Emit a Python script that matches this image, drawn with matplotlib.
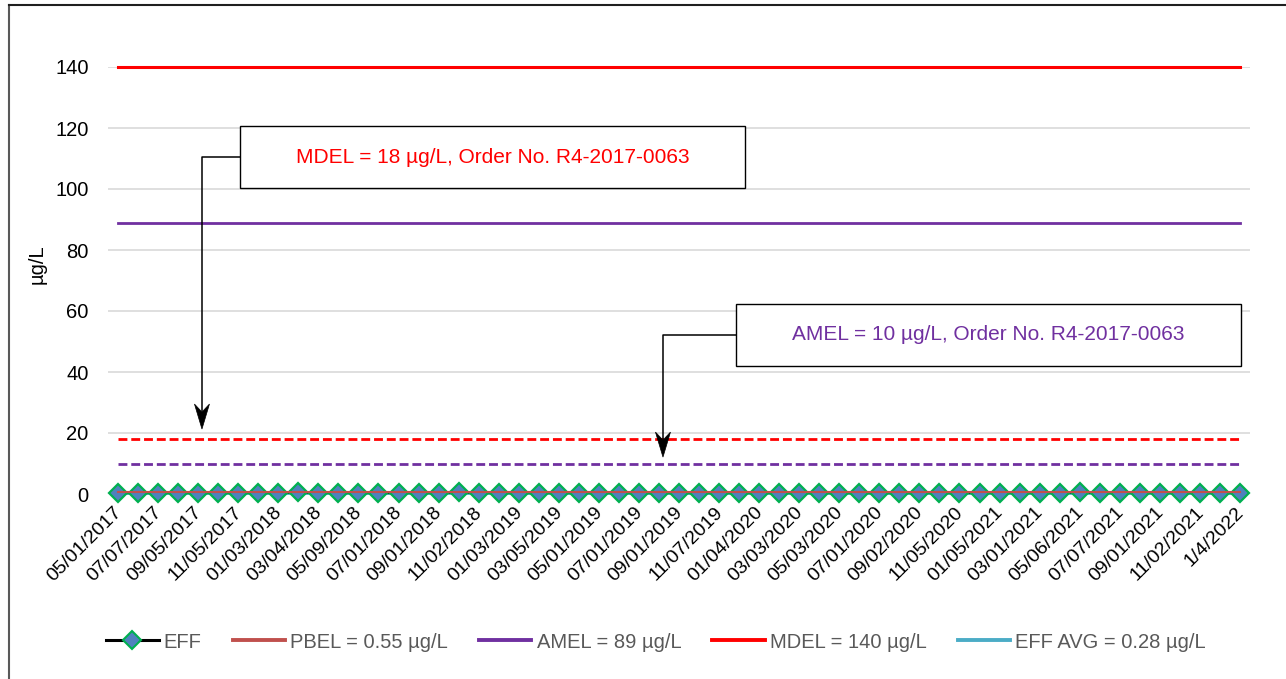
import matplotlib.pyplot as plt
import matplotlib.transforms as mtransforms
import numpy as np
from matplotlib.lines import Line2D
from matplotlib.patches import Rectangle, Polygon

plt.rcParams['font.family'] = ['Liberation Sans', 'DejaVu Sans']

# ---------------------------------------------------------------- data
tick_labels = ['05/01/2017', '07/07/2017', '09/05/2017', '11/05/2017',
               '01/03/2018', '03/04/2018', '05/09/2018', '07/01/2018',
               '09/01/2018', '11/02/2018', '01/03/2019', '03/05/2019',
               '05/01/2019', '07/01/2019', '09/01/2019', '11/07/2019',
               '01/04/2020', '03/03/2020', '05/03/2020', '07/01/2020',
               '09/02/2020', '11/05/2020', '01/05/2021', '03/01/2021',
               '05/06/2021', '07/07/2021', '09/01/2021', '11/02/2021',
               '1/4/2022']
eff = [0.3, 0.3, 0.3, 0.3, 0.3, 0.3, 0.3, 0.3, 0.3, 0.5,
       0.3, 0.3, 0.3, 0.3, 0.3, 0.3, 0.3, 0.5, 0.3, 0.3,
       0.3, 0.3, 0.3, 0.3, 0.3, 0.3, 0.3, 0.3, 0.3, 0.3,
       0.3, 0.3, 0.3, 0.3, 0.3, 0.3, 0.3, 0.3, 0.3, 0.3,
       0.3, 0.3, 0.3, 0.3, 0.3, 0.3, 0.3, 0.3, 0.5, 0.3,
       0.3, 0.3, 0.3, 0.3, 0.3, 0.3, 0.3]
pbel = 0.55
amel = 89
mdel = 140
eff_avg = 0.28
mdel_order = 18
amel_order = 10

n = len(eff)
x = np.arange(n)

# ---------------------------------------------------------------- figure
W, H = 1286, 679
fig = plt.figure(figsize=(W / 100, H / 100), dpi=100)
ax = fig.add_axes([108 / W, 1 - 494 / H, 1142 / W, 427 / H])

dash = (0, (3.2, 1.4))
ax.plot(x, [mdel] * n, color='#FF0000', lw=2.2, clip_on=False, zorder=3)
ax.plot(x, [amel] * n, color='#7030A0', lw=2, zorder=3)
ax.plot(x, [mdel_order] * n, color='#FF0000', lw=2, ls=dash, zorder=3)
ax.plot(x, [amel_order] * n, color='#7030A0', lw=2, ls=dash, zorder=3)
ax.plot(x, [eff_avg] * n, color='#4BACC6', lw=2, zorder=4, clip_on=False)
ax.plot(x, eff, color='#1F1F1F', lw=1.5, marker='D', ms=9.5,
        mfc='#4F81BD', mec='#00B050', mew=1.6, zorder=5, clip_on=False)
ax.plot(x, [pbel] * n, color='#C0504D', lw=1.5, zorder=6, clip_on=False)

ax.set_xlim(-0.5, n - 0.5)
ax.set_ylim(0, 140)
ax.set_yticks(np.arange(0, 141, 20))
ax.set_xticks(x[::2])
ax.set_xticklabels(tick_labels, rotation=45, ha='right', rotation_mode='anchor')
ax.tick_params(axis='both', length=0, labelsize=14.5)
ax.tick_params(axis='x', labelsize=14, pad=7)
ax.tick_params(axis='y', pad=14)
shift = mtransforms.ScaledTranslation(-5 / 100, 0, fig.dpi_scale_trans)
for lab in ax.get_xticklabels():
    lab.set_transform(lab.get_transform() + shift)
ax.grid(axis='y', color='#D9D9D9', lw=1.2)
ax.set_axisbelow(True)
for s in ax.spines.values():
    s.set_visible(False)
ax.set_ylabel('µg/L', fontsize=14.5, va='center')
ax.yaxis.set_label_coords(-0.062, 0.539)

# ---------------------------------------------------------------- callouts
ppx = 1142 / n     # pixels per category
ppy = 427 / 140    # pixels per unit


def callout(x0, x1, y0, y1, text, color, ax_x, tip_y):
    ym = (y0 + y1) / 2
    ax.add_patch(Rectangle((x0, y0), x1 - x0, y1 - y0, fc='white',
                           ec='black', lw=1, zorder=7, clip_on=False))
    ax.text((x0 + x1) / 2, ym, text, color=color, fontsize=15,
            ha='center', va='center', zorder=8)
    head = [(ax_x, tip_y),
            (ax_x - 7.5 / ppx, tip_y + 25 / ppy),
            (ax_x, tip_y + 17 / ppy),
            (ax_x + 7.5 / ppx, tip_y + 25 / ppy)]
    ax.plot([x0, ax_x, ax_x], [ym, ym, tip_y + 18 / ppy],
            color='black', lw=1.1, zorder=7)
    ax.add_patch(Polygon(head, closed=True, fc='black', ec='black',
                         lw=0.5, zorder=7))


callout(6.09, 31.3, 100.3, 120.6,
        'MDEL = 18 µg/L, Order No. R4-2017-0063', '#FF0000', 4.19, 21.3)
callout(30.84, 56.04, 42.0, 62.3,
        'AMEL = 10 µg/L, Order No. R4-2017-0063', '#7030A0', 27.2, 12.1)

# ---------------------------------------------------------------- legend
handles = [
    Line2D([], [], color='black', lw=2.2, marker='D', ms=9, mfc='#4F81BD',
           mec='#00B050', mew=1.5),
    Line2D([], [], color='#C0504D', lw=2.8),
    Line2D([], [], color='#7030A0', lw=2.8),
    Line2D([], [], color='#FF0000', lw=2.8),
    Line2D([], [], color='#4BACC6', lw=2.8),
]
labels = ['EFF', 'PBEL = %.2f µg/L' % pbel, 'AMEL = %d µg/L' % amel,
          'MDEL = %d µg/L' % mdel, 'EFF AVG = %.2f µg/L' % eff_avg]
leg = fig.legend(handles, labels, loc='center', ncol=5, frameon=False,
                 bbox_to_anchor=(656 / W, 1 - 642 / H), fontsize=14.5,
                 handlelength=2.6, columnspacing=1.55, handletextpad=0.25)
for t in leg.get_texts():
    t.set_color('#595959')

# outer chart border
fig.add_artist(Line2D([9 / W, 9 / W], [0, 1 - 5 / H],
                      color='#595959', lw=1.5, transform=fig.transFigure))
fig.add_artist(Line2D([9 / W, 1], [1 - 5 / H, 1 - 5 / H],
                      color='#1F1F1F', lw=1.5, transform=fig.transFigure))

fig.savefig('out.png', dpi=100)
